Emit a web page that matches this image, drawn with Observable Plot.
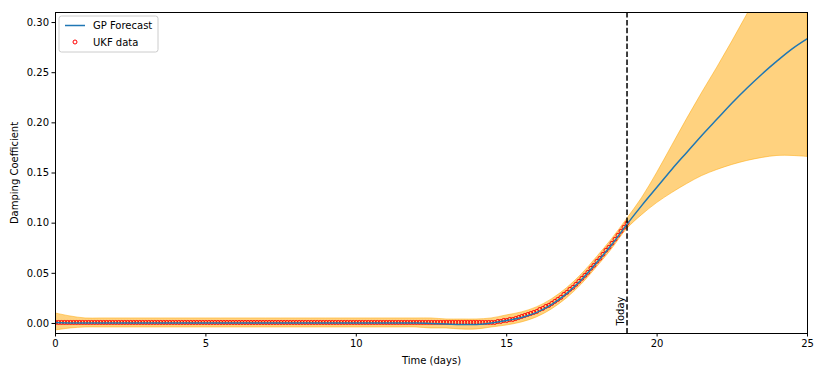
<!DOCTYPE html>
<html>
<head>
<meta charset="utf-8">
<script src="https://cdn.jsdelivr.net/npm/d3@7"></script>
<script src="https://cdn.jsdelivr.net/npm/@observablehq/plot@0.6"></script>
<style>
  html, body { margin: 0; padding: 0; background: #fff; }
  #chart { width: 828px; height: 372px; }
  svg { font-family: "DejaVu Sans", sans-serif; }
</style>
</head>
<body>
<div id="chart"></div>
<script>
// GP forecast grid (days)
const gpTime = [0,0.5,1,1.5,2,2.5,3,3.5,4,4.5,5,5.5,6,6.5,7,7.5,8,8.5,9,9.5,10,10.5,11,11.5,12,12.5,13,13.5,14,14.5,15,15.5,16,16.5,17,17.5,18,18.5,19,19.5,20,20.5,21,21.5,22,22.5,23,23.5,24,24.5,25];
const gpMean = [0.001,0.0005,0.0005,0.0005,0.0005,0.0005,0.0005,0.0005,0.0005,0.0005,0.0005,0.0005,0.0005,0.0005,0.0005,0.0005,0.0005,0.0005,0.0005,0.0005,0.0005,0.0005,0.0005,0.0005,0.0005,0.0,-0.0005,-0.001,-0.001,0.0005,0.003,0.006,0.011,0.019,0.030,0.044,0.061,0.079,0.099,0.118,0.136,0.154,0.171,0.188,0.204,0.220,0.235,0.249,0.262,0.274,0.284];
const gpUpper = [0.010,0.007,0.005,0.005,0.005,0.005,0.005,0.005,0.005,0.005,0.005,0.005,0.005,0.005,0.005,0.005,0.005,0.005,0.005,0.005,0.005,0.005,0.005,0.005,0.005,0.005,0.004,0.004,0.004,0.005,0.008,0.011,0.016,0.024,0.035,0.049,0.066,0.084,0.104,0.125,0.150,0.177,0.204,0.230,0.255,0.281,0.308,0.334,0.357,0.380,0.402];
const gpLower = [-0.007,-0.005,-0.004,-0.004,-0.004,-0.004,-0.004,-0.004,-0.004,-0.004,-0.004,-0.004,-0.004,-0.004,-0.004,-0.004,-0.004,-0.004,-0.004,-0.004,-0.004,-0.004,-0.004,-0.004,-0.004,-0.005,-0.005,-0.006,-0.006,-0.004,-0.002,0.001,0.006,0.014,0.025,0.039,0.056,0.074,0.094,0.108,0.120,0.130,0.139,0.147,0.153,0.158,0.162,0.165,0.167,0.167,0.166];

// UKF data, every 0.1 day from 0 to 19
const ukfStart = 0, ukfStep = 0.1;
const ukfValues = [
0.001,0.001,0.001,0.001,0.001,0.001,0.001,0.001,0.001,0.001,
0.001,0.001,0.001,0.001,0.001,0.001,0.001,0.001,0.001,0.001,
0.001,0.001,0.001,0.001,0.001,0.001,0.001,0.001,0.001,0.001,
0.001,0.001,0.001,0.001,0.001,0.001,0.001,0.001,0.001,0.001,
0.001,0.001,0.001,0.001,0.001,0.001,0.001,0.001,0.001,0.001,
0.001,0.001,0.001,0.001,0.001,0.001,0.001,0.001,0.001,0.001,
0.001,0.001,0.001,0.001,0.001,0.001,0.001,0.001,0.001,0.001,
0.001,0.001,0.001,0.001,0.001,0.001,0.001,0.001,0.001,0.001,
0.001,0.001,0.001,0.001,0.001,0.001,0.001,0.001,0.001,0.001,
0.001,0.001,0.001,0.001,0.001,0.001,0.001,0.001,0.001,0.001,
0.001,0.001,0.001,0.001,0.001,0.001,0.001,0.001,0.001,0.001,
0.001,0.001,0.001,0.001,0.001,0.001,0.001,0.001,0.001,0.001,
0.001,0.001,0.001,0.001,0.001,0.001,0.001,0.001,0.001,0.001,
0.001,0.001,0.001,0.001,0.001,0.001,0.001,0.001,0.001,0.001,
0.001,0.001,0.001,0.001,0.001,0.001,0.001,0.002,0.002,0.003,
0.003,0.004,0.004,0.005,0.006,0.007,0.008,0.009,0.010,0.011,
0.012,0.014,0.015,0.017,0.018,0.020,0.022,0.024,0.026,0.029,
0.031,0.034,0.036,0.039,0.042,0.045,0.048,0.051,0.055,0.058,
0.062,0.065,0.069,0.073,0.076,0.080,0.084,0.088,0.092,0.096,
0.100
];

const xTicks = [0,5,10,15,20,25];
const yTicks = [0.00,0.05,0.10,0.15,0.20,0.25,0.30];
const todayX = [19];
const todayLabel = ["Today"];
const legendLabels = ["GP Forecast", "UKF data"];

const gp = gpTime.map((t, i) => ({t, mean: gpMean[i], lo: gpLower[i], hi: gpUpper[i]}));
const ukf = ukfValues.map((v, i) => ({t: +(ukfStart + i * ukfStep).toFixed(2), v}));

const W = 828, H = 372;
const mL = 55, mR = 21, mT = 12, mB = 39;

const chart = Plot.plot({
  width: W,
  height: H,
  marginLeft: mL,
  marginRight: mR,
  marginTop: mT,
  marginBottom: mB,
  style: {fontFamily: "DejaVu Sans, sans-serif", fontSize: "10px", color: "black", background: "white"},
  x: {domain: [0, 25], ticks: xTicks, tickFormat: d3.format("d"), tickSize: 3.5, tickPadding: 3, label: "Time (days)", labelAnchor: "center", labelOffset: 30, labelArrow: "none"},
  y: {domain: [-0.01, 0.31], ticks: yTicks, tickFormat: d3.format(".2f"), tickSize: 3.5, tickPadding: 3, label: "Damping Coefficient", labelAnchor: "center", labelOffset: 45, labelArrow: "none"},
  marks: [
    Plot.areaY(gp, {x: "t", y1: "lo", y2: "hi", fill: "orange", fillOpacity: 0.5, stroke: "orange", strokeOpacity: 0.5, strokeWidth: 1, curve: "catmull-rom", clip: true}),
    Plot.dot(ukf, {x: "t", y: "v", r: 2, stroke: "red", strokeWidth: 1, fill: "none", clip: true}),
    Plot.line(gp, {x: "t", y: "mean", stroke: "#1f77b4", strokeWidth: 1.5, curve: "catmull-rom", clip: true}),
    Plot.ruleX(todayX, {stroke: "black", strokeWidth: 1.5, strokeDasharray: "5.5,2.4"}),
    Plot.text(todayLabel, {x: todayX[0], y: 0, text: d => d, rotate: -90, textAnchor: "start", lineAnchor: "bottom", dx: -3, dy: 2, fill: "black", fontSize: 10}),
    Plot.frame({stroke: "black", strokeWidth: 1})
  ]
});

document.getElementById("chart").appendChild(chart);

// Legend box (upper left)
const svg = d3.select(chart);
const lg = svg.append("g").attr("transform", `translate(${mL + 4},${mT + 4})`);
lg.append("rect").attr("x", 0).attr("y", 0).attr("width", 99).attr("height", 36).attr("rx", 2.5)
  .attr("fill", "white").attr("fill-opacity", 0.8).attr("stroke", "#cccccc").attr("stroke-width", 1);
lg.append("line").attr("x1", 6).attr("x2", 26).attr("y1", 9.5).attr("y2", 9.5).attr("stroke", "#1f77b4").attr("stroke-width", 1.5);
lg.append("circle").attr("cx", 16).attr("cy", 26).attr("r", 2).attr("fill", "none").attr("stroke", "red").attr("stroke-width", 1);
lg.selectAll("text.lbl").data(legendLabels).join("text").attr("class", "lbl")
  .attr("x", 34).attr("y", (d, i) => 9.5 + i * 16.5).attr("dy", "0.35em")
  .attr("text-anchor", "start")
  .attr("font-size", 10).attr("fill", "black").text(d => d);
</script>
</body>
</html>
